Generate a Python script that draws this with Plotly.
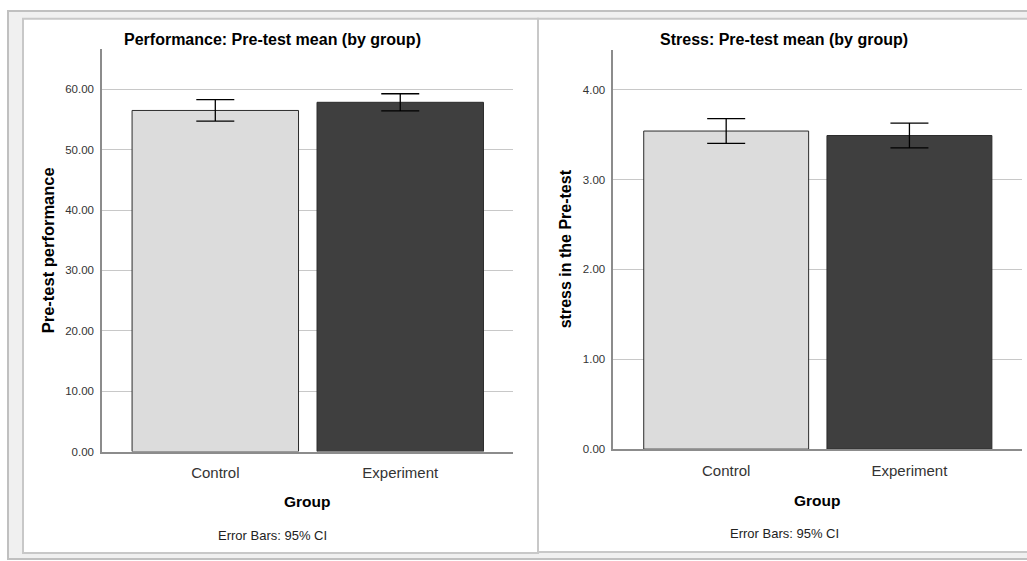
import plotly.graph_objects as go

W, H = 1027, 561

groups = ["Control", "Experiment"]
perf_mean = [56.5, 57.85]
perf_ci = [1.78, 1.42]
stress_mean = [3.54, 3.49]
stress_ci = [0.137, 0.138]
bar_colors = ["#dcdcdc", "#3f3f3f"]

perf_ticks = [0, 10, 20, 30, 40, 50, 60]
stress_ticks = [0, 1, 2, 3, 4]

FONT = "Arial, Liberation Sans, sans-serif"

def px(x):
    return x / W

def py(y):
    return 1 - y / H

fig = go.Figure()

fig.add_trace(go.Bar(
    x=groups, y=perf_mean, xaxis="x", yaxis="y",
    marker=dict(color=bar_colors, line=dict(color="#2b2b2b", width=1)),
    error_y=dict(type="data", array=perf_ci, color="#000000", thickness=1.3, width=19),
    showlegend=False, hoverinfo="skip"))

fig.add_trace(go.Bar(
    x=groups, y=stress_mean, xaxis="x2", yaxis="y2",
    marker=dict(color=bar_colors, line=dict(color="#2b2b2b", width=1)),
    error_y=dict(type="data", array=stress_ci, color="#000000", thickness=1.3, width=19),
    showlegend=False, hoverinfo="skip"))

axis_common_x = dict(showgrid=False, showline=True, linecolor="#8c8c8c", linewidth=1.5,
                     ticks="", tickfont=dict(family=FONT, size=15, color="#333333"),
                     zeroline=False, fixedrange=True, ticklabelstandoff=7)
axis_common_y = dict(showgrid=True, gridcolor="#c8c8c8", gridwidth=1, showline=True,
                     linecolor="#8c8c8c", linewidth=1.5, ticks="",
                     tickfont=dict(family=FONT, size=11.5, color="#333333"),
                     zeroline=False, fixedrange=True, ticklabelstandoff=4)

fig.update_layout(
    width=W, height=H,
    margin=dict(l=0, r=0, t=0, b=0),
    paper_bgcolor="white", plot_bgcolor="rgba(0,0,0,0)",
    bargap=0.1,
    xaxis=dict(domain=[px(102), px(513)], range=[-0.6126, 1.6096], anchor="y", **axis_common_x),
    yaxis=dict(domain=[py(456.5), py(50)], range=[0, 66.6], anchor="x",
               tickvals=perf_ticks, ticktext=[f"{v:.2f}" for v in perf_ticks], **axis_common_y),
    xaxis2=dict(domain=[px(613.3), px(1021.7)], range=[-0.616, 1.6127], anchor="y2", **axis_common_x),
    yaxis2=dict(domain=[py(454), py(50.7)], range=[0, 4.44], anchor="x2",
                tickvals=stress_ticks, ticktext=[f"{v:.2f}" for v in stress_ticks], **axis_common_y),
)

# frames
shapes = [
    dict(type="rect", xref="paper", yref="paper", x0=px(8), x1=px(1030), y0=py(565), y1=py(11),
         fillcolor="#f0f0f0", line=dict(color="#c0c0c0", width=2), layer="below"),
    dict(type="rect", xref="paper", yref="paper", x0=px(23), x1=px(538), y0=py(559), y1=py(19),
         fillcolor="white", line=dict(color="#c8c8c8", width=2), layer="below"),
    dict(type="rect", xref="paper", yref="paper", x0=px(538), x1=px(1032), y0=py(558), y1=py(19),
         fillcolor="white", line=dict(color="#c8c8c8", width=2), layer="below"),
]
fig.update_layout(shapes=shapes)

def ann(text, x, y, size, bold=False, angle=0, color="#000000"):
    fig.add_annotation(text=f"<b>{text}</b>" if bold else text, x=px(x), y=py(y),
                       xref="paper", yref="paper", showarrow=False, textangle=angle,
                       xanchor="center", yanchor="middle",
                       font=dict(family=FONT, size=size, color=color))

ann("Performance: Pre-test mean (by group)", 272, 40, 16, bold=True)
ann("Stress: Pre-test mean (by group)", 784, 40, 16, bold=True)
ann("Pre-test performance", 48, 253, 16.5, bold=True, angle=-90)
ann("stress in the Pre-test", 565, 252, 16, bold=True, angle=-90)
ann("Group", 307, 507, 15.5, bold=True)
ann("Group", 817, 506, 15.5, bold=True)
ann("Error Bars: 95% CI", 272, 541, 13, color="#222222")
ann("Error Bars: 95% CI", 784, 539, 13, color="#222222")

fig.write_html("out.html")
